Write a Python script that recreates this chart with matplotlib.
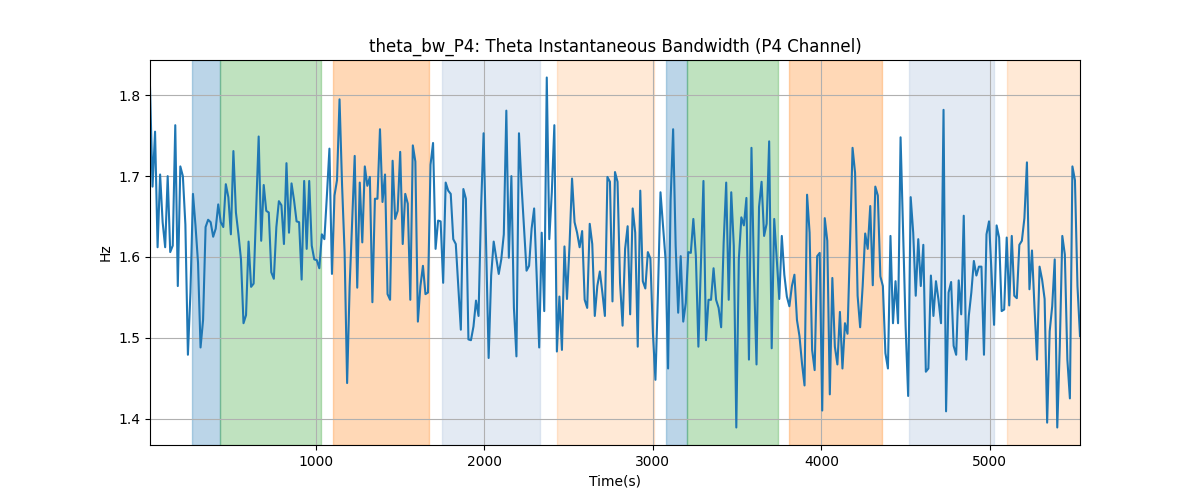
import numpy as np
import matplotlib
matplotlib.use("Agg")
import matplotlib.pyplot as plt

# theta bandwidth, P4 channel, one value every 15 s
bw_p4 = [
    1.81, 1.687, 1.755, 1.612, 1.702, 1.643, 1.612, 1.70, 1.606, 1.614,
    1.763, 1.564, 1.712, 1.70, 1.64, 1.479, 1.556, 1.678, 1.639, 1.593,
    1.488, 1.522, 1.637, 1.646, 1.643, 1.625, 1.635, 1.665, 1.643, 1.637,
    1.69, 1.674, 1.628, 1.731, 1.655, 1.628, 1.597, 1.518, 1.528, 1.619,
    1.563, 1.567, 1.66, 1.749, 1.62, 1.689, 1.657, 1.655, 1.581, 1.573,
    1.637, 1.669, 1.664,
    1.616, 1.716, 1.63, 1.691, 1.67, 1.644, 1.643, 1.572, 1.694, 1.61,
    1.694, 1.614, 1.597, 1.596, 1.586, 1.628, 1.622, 1.676, 1.734, 1.579,
    1.676, 1.695, 1.795, 1.689, 1.606, 1.444, 1.564, 1.643, 1.725, 1.562,
    1.692, 1.618, 1.712, 1.688, 1.699, 1.544, 1.672, 1.672, 1.758, 1.668,
    1.702, 1.554, 1.547, 1.719, 1.647, 1.657, 1.73, 1.616, 1.678, 1.666,
    1.547, 1.738, 1.718,
    1.52, 1.564, 1.589, 1.554, 1.556, 1.714, 1.741, 1.61, 1.645, 1.644,
    1.568, 1.692, 1.682, 1.678, 1.622, 1.616, 1.564, 1.51, 1.684, 1.672,
    1.498, 1.497, 1.514, 1.546, 1.527, 1.66, 1.753, 1.614, 1.475, 1.577,
    1.619, 1.599, 1.579, 1.597, 1.628, 1.781, 1.599, 1.70, 1.537, 1.477,
    1.753, 1.689, 1.637, 1.583, 1.589, 1.635, 1.66, 1.577, 1.488, 1.63,
    1.533,
    1.822, 1.622, 1.68, 1.763, 1.483, 1.551, 1.485, 1.613, 1.548, 1.614,
    1.697, 1.643, 1.63, 1.612, 1.632, 1.547, 1.537, 1.641, 1.616, 1.527,
    1.564, 1.582, 1.556, 1.527, 1.699, 1.693, 1.545, 1.705, 1.693, 1.568,
    1.515, 1.61, 1.638, 1.529, 1.66, 1.63, 1.489, 1.682, 1.57, 1.561,
    1.606, 1.598, 1.506, 1.448, 1.556, 1.68, 1.639, 1.597, 1.462, 1.67,
    1.758, 1.614, 1.531, 1.601,
    1.52, 1.543, 1.606, 1.605, 1.647, 1.601, 1.489, 1.593, 1.694, 1.497,
    1.547, 1.547, 1.586, 1.547, 1.537, 1.513, 1.618, 1.692, 1.547, 1.68,
    1.614, 1.389, 1.597, 1.649, 1.639, 1.673, 1.473, 1.735, 1.577, 1.467,
    1.662, 1.693, 1.626, 1.641, 1.743, 1.487, 1.647, 1.597, 1.548, 1.626,
    1.578, 1.551, 1.539, 1.564, 1.578, 1.522, 1.502, 1.468, 1.441, 1.677,
    1.63, 1.485, 1.46,
    1.601, 1.605, 1.41, 1.648, 1.62, 1.43, 1.574, 1.489, 1.467, 1.532,
    1.462, 1.518, 1.505, 1.616, 1.735, 1.704, 1.552, 1.513, 1.564, 1.629,
    1.61, 1.663, 1.565, 1.687, 1.676, 1.576, 1.564, 1.481, 1.462, 1.626,
    1.518, 1.57, 1.518, 1.748, 1.63, 1.514, 1.428, 1.674, 1.63, 1.552,
    1.622, 1.564, 1.615, 1.458, 1.462, 1.577, 1.527, 1.57, 1.547, 1.518,
    1.782, 1.409, 1.556,
    1.569, 1.49, 1.479, 1.571, 1.529, 1.651, 1.473, 1.527, 1.556, 1.595,
    1.577, 1.588, 1.588, 1.479, 1.628, 1.644, 1.581, 1.516, 1.639, 1.624,
    1.533, 1.535, 1.624, 1.54, 1.626, 1.552, 1.549, 1.615, 1.62, 1.648,
    1.717, 1.56, 1.608, 1.537, 1.473, 1.588, 1.572, 1.548, 1.395, 1.508,
    1.539, 1.597, 1.389, 1.489, 1.626, 1.603, 1.473, 1.425, 1.712, 1.695,
    1.564, 1.502,
]
time_s = 15 + 15 * np.arange(len(bw_p4))

# shaded segments: (start, end, colour, alpha)
seg_start = [263, 430, 1101, 1751, 2432, 3080, 3203, 3805, 4519, 5101]
seg_end = [430, 1032, 1673, 2328, 3008, 3203, 3743, 4362, 5025, 5560]
seg_color = ["C0", "C2", "C1", "lightsteelblue", "C1",
             "C0", "C2", "C1", "lightsteelblue", "C1"]
seg_alpha = [0.3, 0.3, 0.3, 0.35, 0.17, 0.3, 0.3, 0.3, 0.35, 0.17]

fig, ax = plt.subplots(figsize=(12, 5), dpi=100)
ax.plot(time_s, bw_p4, color="C0")
for s, e, c, a in zip(seg_start, seg_end, seg_color, seg_alpha):
    ax.axvspan(s, e, color=c, alpha=a)

ax.set_xlim(time_s[0], time_s[-1])
ax.set_title("theta_bw_P4: Theta Instantaneous Bandwidth (P4 Channel)")
ax.set_xlabel("Time(s)")
ax.set_ylabel("Hz")
ax.grid()
fig.savefig("out.png")
